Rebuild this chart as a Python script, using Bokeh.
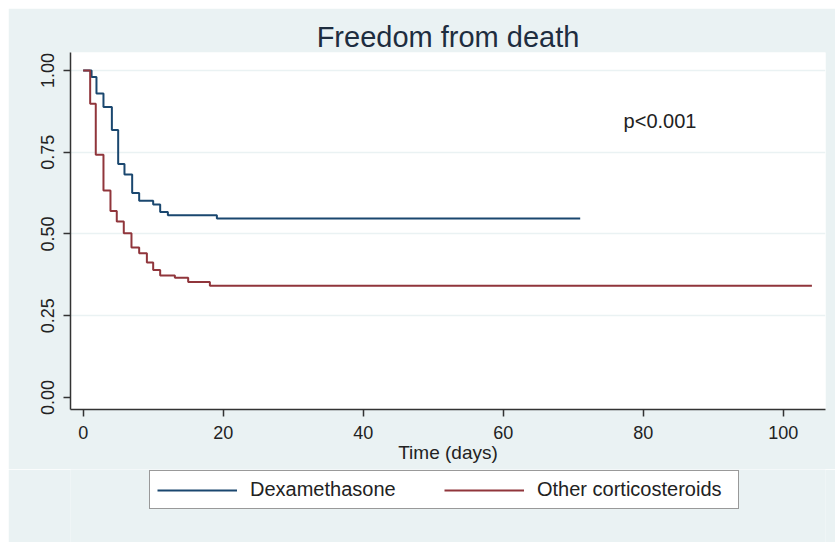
from bokeh.plotting import figure
from bokeh.layouts import column
from bokeh.models import (Range1d, FixedTicker, Legend, LegendItem, Label)
from bokeh.embed import file_html
from bokeh.resources import INLINE

# ---- data ----
dex_time = [0, 1.2, 1.9, 2.9, 4.1, 5.0, 5.9, 7.0, 8.0, 10.0, 11.0, 12.1, 19.1, 71.0]
dex_surv = [1.0, 0.98, 0.93, 0.888, 0.818, 0.714, 0.682, 0.625, 0.602, 0.59, 0.567, 0.557, 0.547, 0.547]

oth_time = [0, 1.0, 1.8, 2.9, 3.9, 4.8, 5.8, 6.9, 8.0, 9.1, 10.0, 11.0, 13.1, 15.0, 18.1, 104.1]
oth_surv = [1.0, 0.898, 0.742, 0.633, 0.57, 0.538, 0.502, 0.459, 0.441, 0.413, 0.39, 0.373, 0.366, 0.353, 0.342, 0.342]

x_ticks = [0, 20, 40, 60, 80, 100]
y_ticks = [0.0, 0.25, 0.5, 0.75, 1.0]
y_tick_labels = ["0.00", "0.25", "0.50", "0.75", "1.00"]
grid_ticks = [0.25, 0.5, 0.75, 1.0]

series_names = ["Dexamethasone", "Other corticosteroids"]
title_text = "Freedom from death"
x_title = "Time (days)"
p_text = "p<0.001"

FONT = "Liberation Sans"
BG = "#eaf2f3"
BLUE = "#1a476f"
RED = "#90353b"

# ---------------- main plot ----------------
p = figure(frame_width=755, frame_height=357, output_backend="svg", toolbar_location=None,
           x_range=Range1d(-1.81, 106.04), y_range=Range1d(-0.0367, 1.055),
           min_border_left=62, min_border_right=10, min_border_top=44,
           min_border_bottom=60)
p.margin = (8, 0, 0, 8)

p.background_fill_color = "white"
p.border_fill_color = BG
p.outline_line_color = None

p.title.text = title_text
p.title.align = "center"
p.title.text_font = FONT
p.title.text_font_size = "29px"
p.title.text_font_style = "normal"
p.title.text_color = "#1e2d3f"
p.title.standoff = 0

r1 = p.step(dex_time, dex_surv, mode="after", line_color=BLUE, line_width=2)
r2 = p.step(oth_time, oth_surv, mode="after", line_color=RED, line_width=2)

lab = Label(x=77.2, y=0.847, text=p_text, text_font=FONT, text_font_size="20px",
            text_baseline="middle", text_align="left", text_color="#222222")
p.add_layout(lab)

for ax in (p.xaxis[0], p.yaxis[0]):
    ax.axis_line_color = "#333333"
    ax.axis_line_width = 1.5
    ax.major_tick_line_color = "#333333"
    ax.major_tick_line_width = 1.5
    ax.major_tick_out = 7
    ax.major_tick_in = 0
    ax.minor_tick_line_color = None
    ax.major_label_text_font = FONT
    ax.major_label_text_font_size = "18px"
    ax.major_label_text_color = "#222222"

p.xaxis.ticker = FixedTicker(ticks=x_ticks)
p.xaxis.major_label_standoff = 9
p.xaxis.axis_label = x_title
p.xaxis.axis_label_text_font = FONT
p.xaxis.axis_label_text_font_size = "19px"
p.xaxis.axis_label_text_font_style = "normal"
p.xaxis.axis_label_text_color = "#222222"
p.xaxis.axis_label_standoff = 0

p.yaxis.ticker = FixedTicker(ticks=y_ticks)
p.yaxis.major_label_overrides = {t: s for t, s in zip(y_ticks, y_tick_labels)}
p.yaxis.major_label_orientation = "vertical"
p.yaxis.major_label_standoff = 9

p.xgrid.visible = False
p.ygrid.ticker = FixedTicker(ticks=grid_ticks)
p.ygrid.grid_line_color = BG
p.ygrid.grid_line_width = 1.5

# ---------------- legend strip ----------------
q = figure(width=827, height=73, output_backend="svg", toolbar_location=None,
           x_axis_type=None, y_axis_type=None,
           x_range=Range1d(-200, -190), y_range=Range1d(0, 1),
           min_border=0)
q.margin = (0, 0, 0, 8)
q.background_fill_color = BG
q.border_fill_color = BG
q.outline_line_color = None
q.grid.visible = False

k1 = q.step(dex_time, dex_surv, mode="after", line_color=BLUE, line_width=2)
k2 = q.step(oth_time, oth_surv, mode="after", line_color=RED, line_width=2)

legend = Legend(items=[LegendItem(label=series_names[0], renderers=[k1]),
                       LegendItem(label=series_names[1], renderers=[k2])],
                orientation="horizontal", location=(79, 33),
                label_text_font=FONT, label_text_font_size="20px",
                label_text_color="#222222",
                glyph_width=80, glyph_height=22, label_standoff=13,
                label_width=194, spacing=0, padding=7, margin=0,
                border_line_color="#333333", border_line_width=1.5,
                background_fill_color="white", background_fill_alpha=1.0)
q.add_layout(legend)

layout = column(p, q, spacing=0)

open("out.html", "w").write(file_html(layout, INLINE))
